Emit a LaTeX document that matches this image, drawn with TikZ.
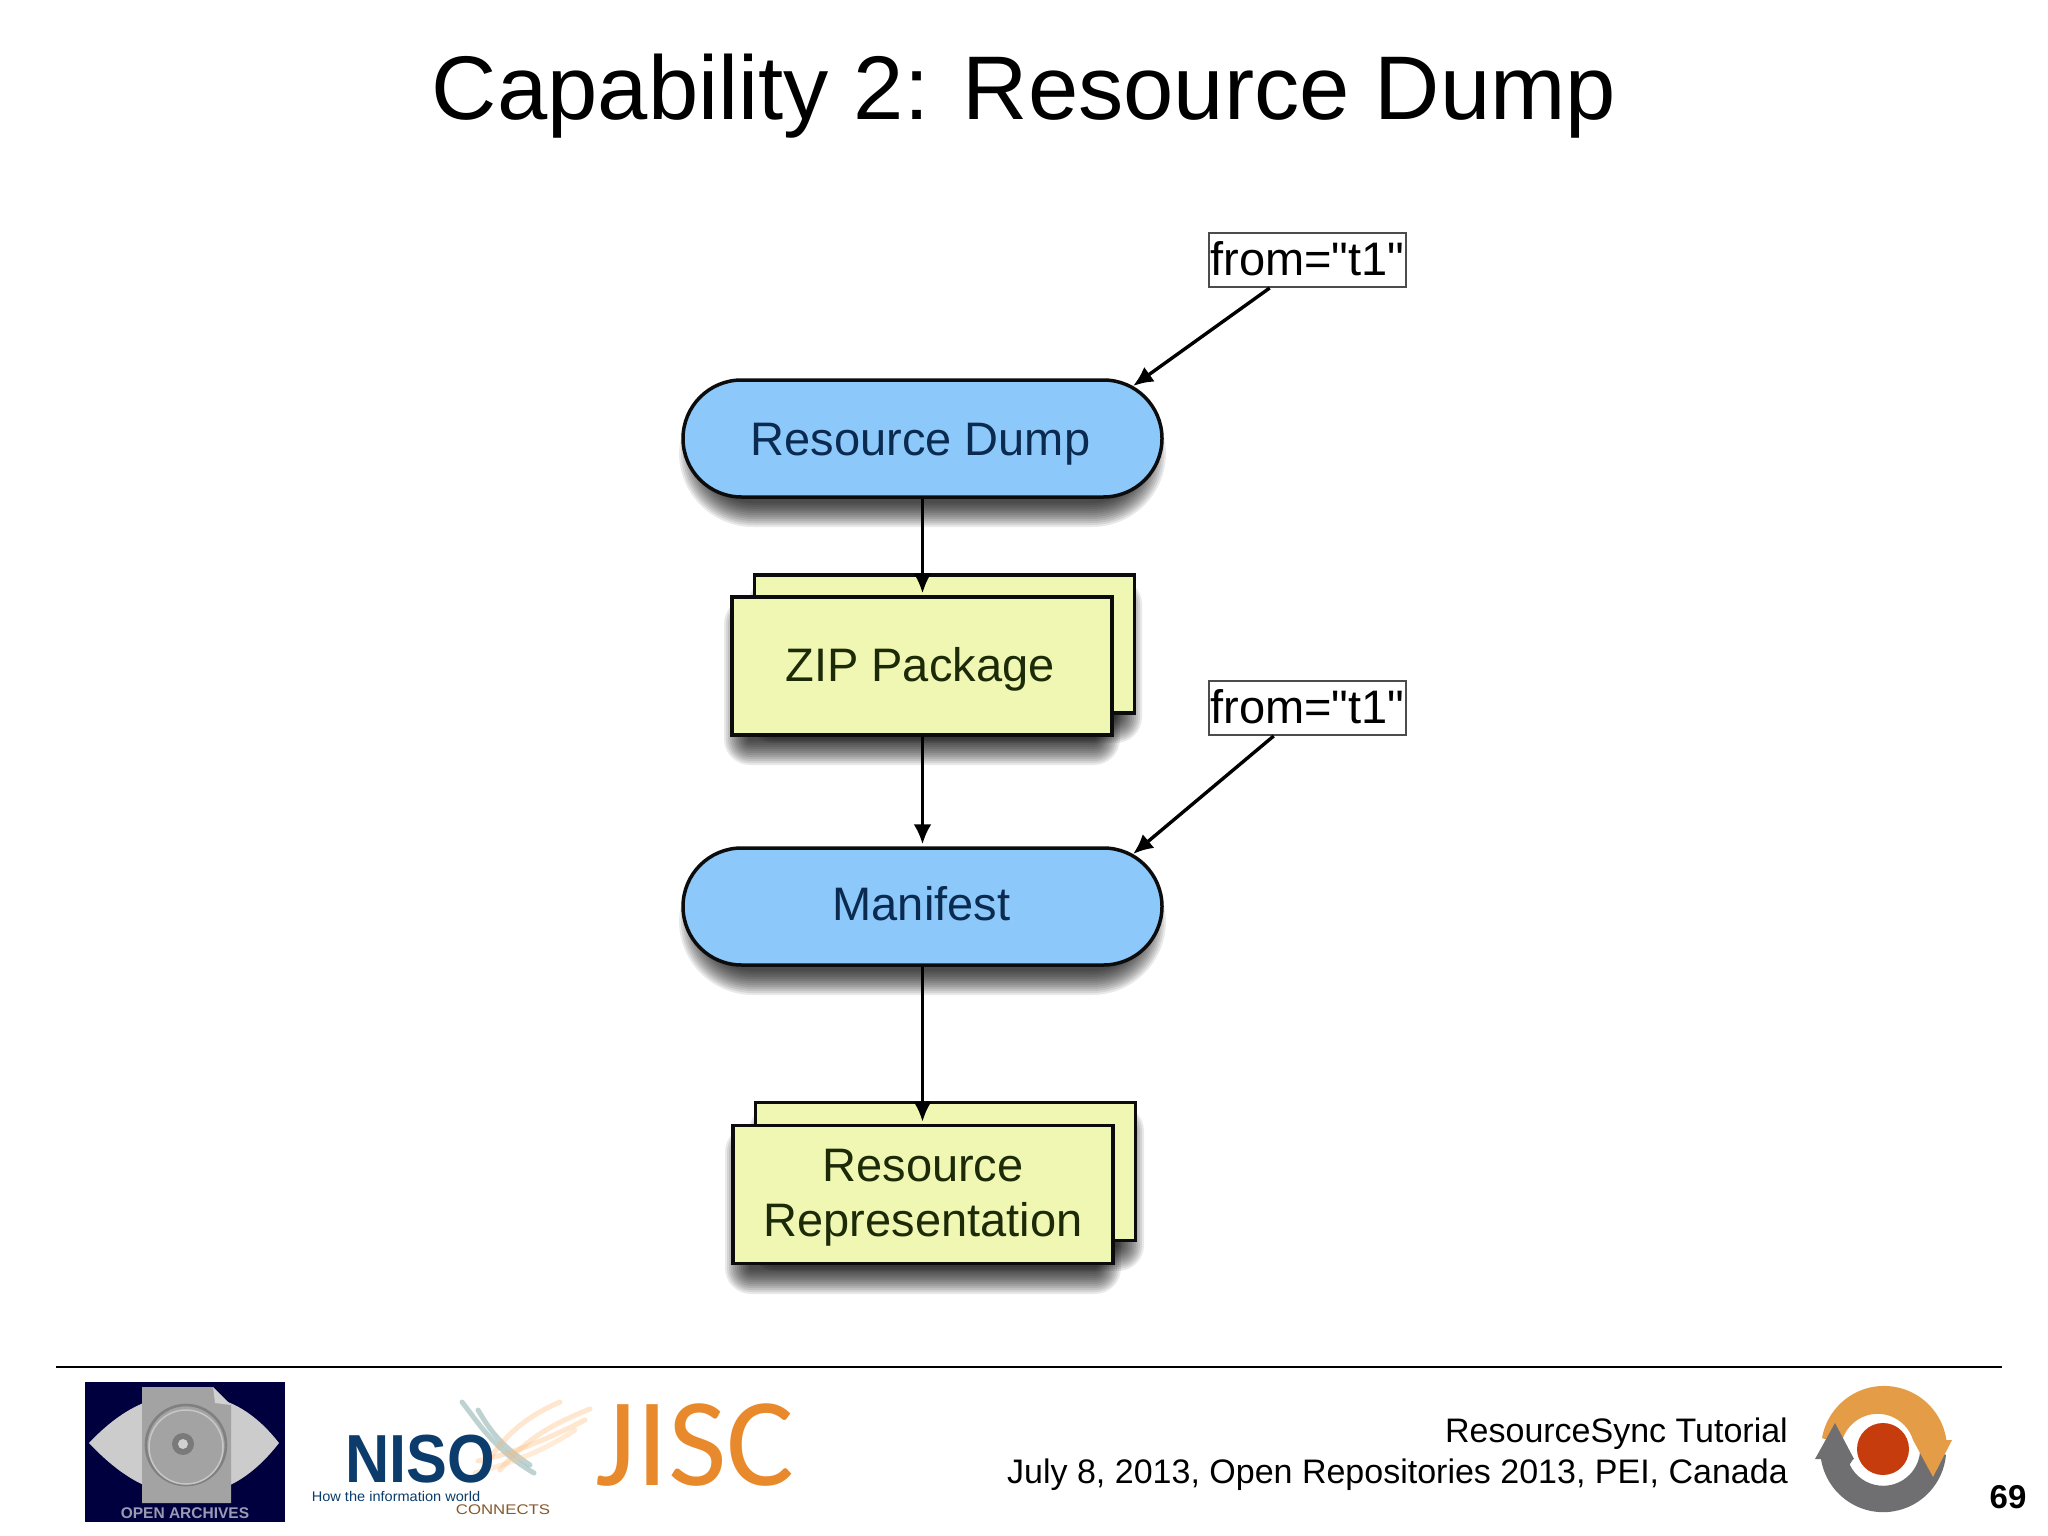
\documentclass[tikz,border=0pt]{standalone}
\usepackage{fontspec}
\setmainfont{Liberation Sans}
\newfontfamily\tagfont{Liberation Sans}
\newfontfamily\jiscfont{Carlito}
\usetikzlibrary{arrows.meta,shapes.misc,calc}
\definecolor{pillblue}{HTML}{8CC8FA}
\definecolor{boxyellow}{HTML}{EFF7B2}
\definecolor{edgeink}{HTML}{0C0C0C}
\definecolor{bluetext}{HTML}{0A2A50}
\definecolor{yellowtext}{HTML}{1C2A08}
\definecolor{oainavy}{HTML}{00003F}
\definecolor{oaitextgray}{HTML}{9A9AB2}
\definecolor{nisoblue}{HTML}{0B3C6B}
\definecolor{jiscorange}{HTML}{E8892B}
\definecolor{ringorange}{HTML}{E49C47}
\definecolor{ringgray}{HTML}{6F6E70}
\definecolor{ringred}{HTML}{C63C0C}
\newcommand{\fs}[1]{\fontsize{#1}{#1}\selectfont}
% #1 corner radius (number), #2-#5 x1,y1,x2,y2 of the shadow core
\newcommand{\softshadow}[5]{%
  \foreach \d in {0,2,...,24}{%
    \fill[black,opacity=0.085,rounded corners={(#1+\d)*1pt}] (#2-\d,#3-\d) rectangle (#4+\d,#5+\d);}}
\tikzset{
  pill/.style={rounded rectangle,draw=edgeink,line width=3.5pt,fill=pillblue,
    minimum width=479pt,minimum height=117pt,inner sep=0pt,text=bluetext,font=\fs{47}},
  card/.style={rectangle,draw=edgeink,line width=3.5pt,fill=boxyellow,
    minimum width=380pt,minimum height=138pt,inner sep=0pt,text=yellowtext,
    font=\fontsize{47}{55}\selectfont,align=center},
  fromtag/.style={rectangle,draw=black!70,line width=2pt,fill=white,
    minimum width=197pt,minimum height=54pt,inner sep=0pt,font=\tagfont\fs{47},
    text height=33pt,text depth=3pt},
  flow/.style={draw=black,line width=3.4pt,-{Latex[length=20pt,width=18pt]}},
  swoosh/.style={line width=5pt,line cap=round,opacity=.35}
}
\begin{document}
\begin{tikzpicture}[x=1pt,y=-1pt]
\useasboundingbox (0,0) rectangle (2048,1536);
\fill[white] (0,0) rectangle (2048,1536);

\node[font=\fs{90.4},inner sep=0pt] (title) at (1024,96) {Capability 2: Resource Dump};

% shadows
\softshadow{50}{703}{405}{1142}{503}
\softshadow{2}{772}{602}{1118}{719}
\softshadow{2}{748}{622}{1096}{741}
\softshadow{50}{703}{873}{1142}{971}
\softshadow{2}{773}{1129}{1120}{1247}
\softshadow{2}{749}{1150}{1097}{1270}

% nodes
\node[pill,text height=44pt,text depth=10pt] (dump) at (922.5,438.5) {\hspace*{-4pt}Resource Dump};
\node[card] (zipback) at (944.5,644) {};
\node[card,text height=40pt,text depth=10pt] (zip) at (922,666) {\hspace*{-4pt}ZIP Package};
\node[pill,text height=28pt,text depth=0pt] (manifest) at (922.5,906.5) {\hspace*{-2pt}Manifest};
\node[card] (repback) at (945.5,1171.5) {};
\node[card] (rep) at (923,1194.5) {\rule{0pt}{38pt}Resource\\Representation};
\node[fromtag] (from1) at (1307.5,260) {from="t1"};
\node[fromtag] (from2) at (1307.5,708) {from="t1"};

% connectors
\draw[flow] (dump.south) -- ([yshift=2pt]dump.south |- zip.north);
\draw[flow] (manifest.north |- zip.south) -- ([yshift=2pt]manifest.north);
\draw[flow] (manifest.south) -- ([yshift=2pt]manifest.south |- rep.north);
\draw[flow] ($(from1.south west)!0.31!(from1.south east)$) -- (dump.14);
\draw[flow] ($(from2.south west)!0.33!(from2.south east)$) -- (manifest.14);

% rule
\draw[line width=2.6pt,black] (56,1367) -- (2002,1367);

% OAI logo
\fill[oainavy] (85,1382) rectangle (285,1522);
\fill[black!20] (89,1443) .. controls (106,1425) and (125,1410) .. (146,1402)
  -- (228,1402) .. controls (248,1410) and (265,1425) .. (279,1443)
  .. controls (265,1461) and (248,1477) .. (228,1486)
  -- (146,1486) .. controls (125,1477) and (106,1461) .. cycle;
\fill[black!36] (142,1387) -- (213,1387) -- (231,1405) -- (231,1503) -- (142,1503) -- cycle;
\fill[black!18] (213,1387) -- (231,1405) -- (215,1403) -- cycle;
\draw[black!50,line width=2.6pt] (186,1445) circle (40);
\draw[black!22,line width=1.5pt] (186,1447) circle (37);
\fill[black!52] (183,1444) circle (11);
\fill[black!18] (183,1444) circle (5);
\node[font=\bfseries\fs{15.5},text=oaitextgray,inner sep=0pt] (oaitext) at (185,1513) {OPEN ARCHIVES};

% NISO logo
\draw[swoosh,draw=teal!45!gray] (462,1402) .. controls (480,1425) and (495,1450) .. (534,1473);
\draw[swoosh,draw=teal!45!gray] (478,1410) .. controls (490,1430) and (500,1445) .. (530,1465);
\draw[swoosh,draw=orange!55] (590,1409) .. controls (550,1425) and (525,1440) .. (500,1470);
\draw[swoosh,draw=orange!55] (560,1402) .. controls (530,1415) and (510,1430) .. (490,1458);
\draw[swoosh,draw=orange!55] (585,1420) .. controls (555,1435) and (520,1452) .. (478,1461);
\draw[swoosh,draw=orange!45] (575,1430) .. controls (545,1450) and (515,1462) .. (475,1473);
\node[inner sep=0pt,font=\bfseries\fs{68},text=nisoblue,xscale=.9] (niso) at (420,1459) {NISO};
\node[inner sep=0pt,font=\fs{14},text=nisoblue,xscale=1.04] (nisotag) at (396,1496) {How the information world};
\node[inner sep=0pt,font=\fs{14},text=brown!70!black,xscale=1.2] (nisoconn) at (503,1510) {CONNECTS};

% JISC logo
\node[inner sep=0pt,font=\jiscfont\fs{126},text=jiscorange,anchor=base,xscale=1.01] (jisc) at (695,1485) {JISC};

% footer
\node[anchor=east,inner sep=0pt,font=\fs{34}] (foot1) at (1788,1433.5) {ResourceSync Tutorial};
\node[anchor=east,inner sep=0pt,font=\fs{34}] (foot2) at (1788,1474.5) {July 8, 2013, Open Repositories 2013, PEI, Canada};

% cycle logo
\fill[ringgray] (1821,1459) arc[start angle=171,end angle=5,radius=63] -- (1920,1452) arc[start angle=5,end angle=155,radius=37] -- (1854,1458) -- cycle;
\fill[ringorange] (1822,1438) arc[start angle=190,end angle=352,radius=63] -- (1952,1440) -- (1933,1477) -- (1913,1440) arc[start angle=343,end angle=190,radius=37] -- cycle;
\fill[ringgray] (1854,1459) -- (1835,1423) -- (1815,1459) -- cycle;
\fill[ringred] (1883,1449) circle (26);

\node[inner sep=0pt,font=\bfseries\fs{33}] (pageno) at (2008,1497) {69};
\end{tikzpicture}
\end{document}
